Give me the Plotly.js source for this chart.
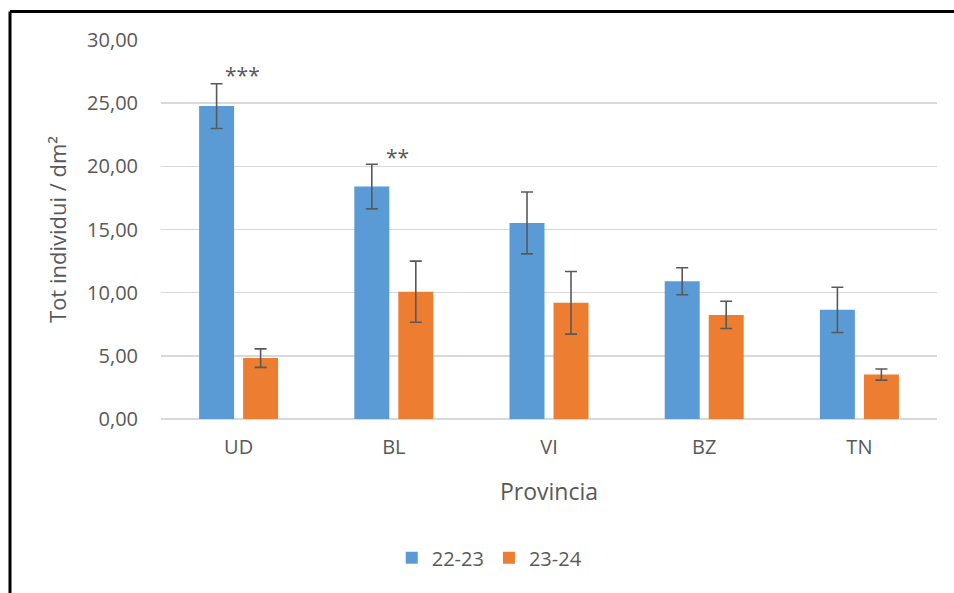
<!DOCTYPE html>
<html>
<head>
<meta charset="utf-8">
<script src="https://cdn.plot.ly/plotly-3.0.1.min.js"></script>
<style>
html,body{margin:0;padding:0;background:#fff;}
#chart{width:954px;height:593px;}
</style>
</head>
<body>
<div id="chart"></div>
<script>
const categories = ["UD", "BL", "VI", "BZ", "TN"];
const series1Name = "22-23";
const series2Name = "23-24";
const values1 = [24.77, 18.40, 15.52, 10.90, 8.64];
const errors1 = [1.77, 1.77, 2.45, 1.07, 1.79];
const values2 = [4.82, 10.08, 9.20, 8.24, 3.52];
const errors2 = [0.73, 2.42, 2.48, 1.08, 0.44];
const yTickValues = [0, 5, 10, 15, 20, 25, 30];
const yTickLabels = ["0,00", "5,00", "10,00", "15,00", "20,00", "25,00", "30,00"];
const significance = [{cat: "UD", label: "***", y: 27.25}, {cat: "BL", label: "**", y: 20.75}];

const FONT = "Open Sans, Lato, sans-serif";
const GREY = "#595959";

const errStyle = {type: "data", visible: true, color: "#595959", thickness: 1.6, width: 6};

const traces = [
  {type: "bar", name: series1Name, x: categories, y: values1,
   error_y: Object.assign({array: errors1}, errStyle),
   marker: {color: "#5B9BD5"}},
  {type: "bar", name: series2Name, x: categories, y: values2,
   error_y: Object.assign({array: errors2}, errStyle),
   marker: {color: "#ED7D31"}}
];

const annotations = significance.map(s => ({
  x: s.cat, y: s.y, xref: "x", yref: "y", text: s.label, showarrow: false,
  xshift: 4, font: {family: FONT, size: 21, color: GREY}
}));

const layout = {
  width: 954, height: 593,
  margin: {l: 161, r: 17, t: 39.5, b: 174},
  paper_bgcolor: "#fff", plot_bgcolor: "#fff",
  barmode: "group", bargap: 0.433, bargroupgap: 0.205,
  showlegend: true,
  legend: {orientation: "h", x: 0.423, xanchor: "center", y: -0.366, yanchor: "middle",
           font: {family: FONT, size: 20, color: GREY}, itemwidth: 30, traceorder: "normal"},
  xaxis: {
    title: {text: "Provincia", font: {family: FONT, size: 23, color: GREY}, standoff: 24},
    tickfont: {family: FONT, size: 20, color: GREY},
    showline: false, showgrid: false, ticks: "", ticklabelstandoff: 14
  },
  yaxis: {
    title: {text: "Tot individui / dm²", font: {family: FONT, size: 22, color: GREY}, standoff: 14},
    range: [0, 30], tickvals: yTickValues, ticktext: yTickLabels,
    tickfont: {family: FONT, size: 20, color: GREY},
    showgrid: true, gridcolor: "#D9D9D9", gridwidth: 1.5,
    zeroline: true, zerolinecolor: "#D9D9D9", zerolinewidth: 1.5,
    showline: false, ticks: "", ticklabelstandoff: 22
  },
  annotations: annotations,
  shapes: [
    {type: "line", xref: "paper", yref: "paper", x0: -0.1946, x1: 1.1, y0: 1.0751, y1: 1.0751,
     line: {color: "#000", width: 3}},
    {type: "line", xref: "paper", yref: "paper", x0: -0.1946, x1: -0.1946, y0: 1.0751, y1: -0.5,
     line: {color: "#000", width: 3}}
  ]
};

Plotly.newPlot("chart", traces, layout, {displayModeBar: false, staticPlot: true});
</script>
</body>
</html>
